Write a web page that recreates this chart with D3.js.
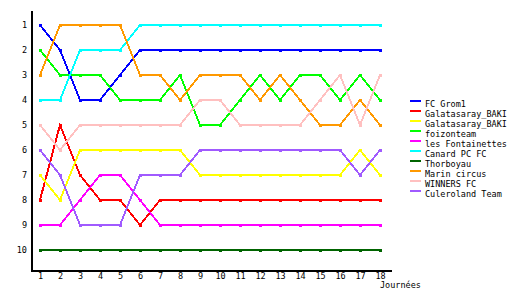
<!DOCTYPE html>
<html>
<head>
<meta charset="utf-8">
<script src="https://cdn.jsdelivr.net/npm/d3@7"></script>
<style>
  body { margin: 0; background: #fff; }
  text { font-family: "DejaVu Sans Mono", monospace; font-size: 8.5px; fill: #000; }
</style>
</head>
<body>
<script>
// width and height of the picture
var width = 530;
var height = 300;

// journées and ranks
var journees = [1, 2, 3, 4, 5, 6, 7, 8, 9, 10, 11, 12, 13, 14, 15, 16, 17, 18];
var rangs = [1, 2, 3, 4, 5, 6, 7, 8, 9, 10];

var equipes = ["FC Grom1", "Galatasaray_BAKI", "Galatasaray_BAKI", "foizonteam",
    "les Fontainettes", "Canard PC FC", "Thorboyau", "Marin circus", "WINNERS FC", "Culeroland Team"];
var couleurs = ["#0000ff", "#ff0000", "#ffff00", "#00ff00", "#ff00ff",
    "#00ffff", "#006400", "#ff9900", "#ffc0c0", "#a05aff"];

// classement per team, one value per journée
var grom1       = [1, 2, 4, 4, 3, 2, 2, 2, 2, 2, 2, 2, 2, 2, 2, 2, 2, 2];
var galata1     = [8, 5, 7, 8, 8, 9, 8, 8, 8, 8, 8, 8, 8, 8, 8, 8, 8, 8];
var galata2     = [7, 8, 6, 6, 6, 6, 6, 6, 7, 7, 7, 7, 7, 7, 7, 7, 6, 7];
var foizon      = [2, 3, 3, 3, 4, 4, 4, 3, 5, 5, 4, 3, 4, 3, 3, 4, 3, 4];
var fontaines   = [9, 9, 8, 7, 7, 8, 9, 9, 9, 9, 9, 9, 9, 9, 9, 9, 9, 9];
var canard      = [4, 4, 2, 2, 2, 1, 1, 1, 1, 1, 1, 1, 1, 1, 1, 1, 1, 1];
var thorboyau   = [10, 10, 10, 10, 10, 10, 10, 10, 10, 10, 10, 10, 10, 10, 10, 10, 10, 10];
var marin       = [3, 1, 1, 1, 1, 3, 3, 4, 3, 3, 3, 4, 3, 4, 5, 5, 4, 5];
var winners     = [5, 6, 5, 5, 5, 5, 5, 5, 4, 4, 5, 5, 5, 5, 4, 3, 5, 3];
var culeroland  = [6, 7, 9, 9, 9, 7, 7, 7, 6, 6, 6, 6, 6, 6, 6, 6, 7, 6];

var series = [grom1, galata1, galata2, foizon, fontaines, canard, thorboyau, marin, winners, culeroland];

var svg = d3.select("body")
    .append("svg")
    .attr("width", width)
    .attr("height", height);

// scales (domain a bit wider so the axis lines run past the first / last point)
var x = d3.scaleLinear().domain([0.5, 18.55]).range([30, 391]);
var y = d3.scaleLinear().domain([0.4, 10.8]).range([10, 270]);

// axes
var xAxis = d3.axisBottom(x)
    .tickValues(journees)
    .tickSizeInner(0)
    .tickSizeOuter(0)
    .tickPadding(3);

var yAxis = d3.axisLeft(y)
    .tickValues(rangs)
    .tickSize(0)
    .tickPadding(4);

var gx = svg.append("g")
    .attr("transform", "translate(0,270)")
    .call(xAxis);
gx.selectAll("text").attr("font-size", null).attr("font-family", null);

var gy = svg.append("g")
    .attr("transform", "translate(31,0)")
    .call(yAxis);
gy.selectAll("text").attr("font-size", null).attr("font-family", null)
    .attr("dy", "0.35em");

svg.selectAll(".domain")
    .attr("stroke", "#000")
    .attr("stroke-width", 2)
    .attr("shape-rendering", "crispEdges");
svg.selectAll(".tick line").remove();

svg.append("text")
    .attr("x", 380)
    .attr("y", 288)
    .text("Journées");

// lines
var line = d3.line()
    .x(function (d, i) { return x(journees[i]); })
    .y(function (d) { return y(d); });

series.forEach(function (s, k) {
    var g = svg.append("g");
    g.append("path")
        .attr("d", line(s))
        .attr("fill", "none")
        .attr("stroke", couleurs[k])
        .attr("stroke-width", 2)
        .attr("shape-rendering", "crispEdges");
    g.selectAll("rect")
        .data(s)
        .enter()
        .append("rect")
        .attr("x", function (d, i) { return x(journees[i]) - 1.5; })
        .attr("y", function (d) { return y(d) - 1.5; })
        .attr("width", 3)
        .attr("height", 3)
        .attr("fill", couleurs[k])
        .attr("shape-rendering", "crispEdges");
});

// legend
var legend = svg.append("g").attr("transform", "translate(410,101)");
var items = legend.selectAll("g")
    .data(equipes)
    .enter()
    .append("g")
    .attr("transform", function (d, i) { return "translate(0," + (i * 10) + ")"; });

items.append("rect")
    .attr("x", 0)
    .attr("y", -1)
    .attr("width", 11)
    .attr("height", 2)
    .attr("fill", function (d, i) { return couleurs[i]; });

items.append("text")
    .attr("x", 15)
    .attr("y", 6)
    .text(function (d) { return d; });
</script>
</body>
</html>
